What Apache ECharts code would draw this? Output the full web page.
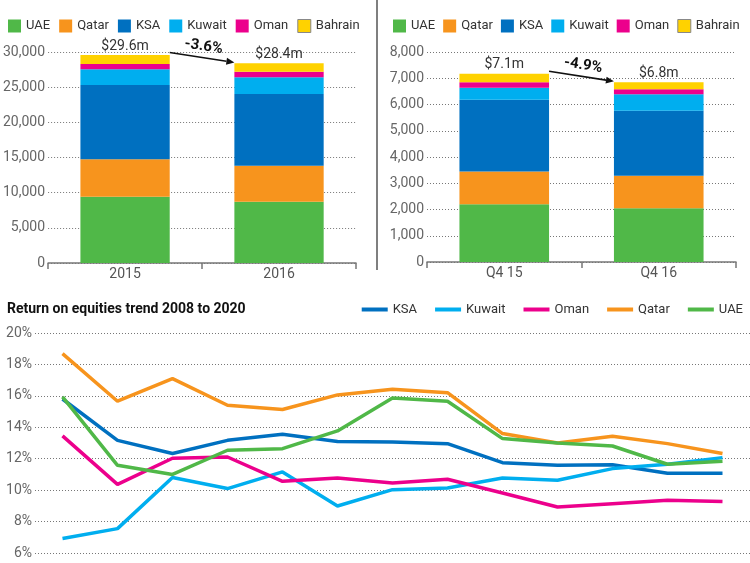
<!DOCTYPE html>
<html>
<head>
<meta charset="utf-8">
<script src="https://cdn.jsdelivr.net/npm/echarts@6/dist/echarts.min.js"></script>
<style>
html,body{margin:0;padding:0;background:#fff;}
#c{width:750px;height:563px;}
</style>
</head>
<body>
<div id="c"></div>
<script>
// ---------- data ----------
const countries = ['UAE', 'Qatar', 'KSA', 'Kuwait', 'Oman', 'Bahrain'];
const countryColors = ['#50b848', '#f7941d', '#0070c0', '#00aeef', '#ec008c', '#ffd200'];

const yearCategories = ['2015', '2016'];
const annualUAE = [9430, 8720];
const annualQatar = [5315, 5110];
const annualKSA = [10560, 10190];
const annualKuwait = [2230, 2380];
const annualOman = [750, 800];
const annualBahrain = [1280, 1200];
const annualTotalLabels = ['$29.6m', '$28.4m'];
const annualChange = '-3.6%';
const annualTicks = [0, 5000, 10000, 15000, 20000, 25000, 30000];

const quarterCategories = ['Q4 15', 'Q4 16'];
const quarterUAE = [2200, 2050];
const quarterQatar = [1250, 1240];
const quarterKSA = [2730, 2470];
const quarterKuwait = [460, 630];
const quarterOman = [210, 190];
const quarterBahrain = [320, 270];
const quarterTotalLabels = ['$7.1m', '$6.8m'];
const quarterChange = '-4.9%';
const quarterTicks = [0, 1000, 2000, 3000, 4000, 5000, 6000, 7000, 8000];

const roeTitle = 'Return on equities trend 2008 to 2020';
const roeYears = ['2008','2009','2010','2011','2012','2013','2014','2015','2016','2017','2018','2019','2020'];
const roeNames = ['KSA', 'Kuwait', 'Oman', 'Qatar', 'UAE'];
const roeColors = ['#0070c0', '#00aeef', '#ec008c', '#f7941d', '#50b848'];
const roeKSA    = [15.8, 13.17, 12.33, 13.17, 13.56, 13.1, 13.07, 12.96, 11.75, 11.58, 11.62, 11.07, 11.07];
const roeKuwait = [6.92, 7.55, 10.8, 10.1, 11.16, 8.99, 10.03, 10.14, 10.77, 10.63, 11.37, 11.65, 12.07];
const roeOman   = [13.45, 10.37, 12.03, 12.11, 10.56, 10.77, 10.46, 10.69, 9.82, 8.93, 9.14, 9.35, 9.27];
const roeQatar  = [18.69, 15.66, 17.1, 15.4, 15.13, 16.06, 16.42, 16.2, 13.6, 13.0, 13.43, 12.96, 12.33];
const roeUAE    = [15.93, 11.58, 11.0, 12.54, 12.64, 13.77, 15.87, 15.66, 13.28, 13.0, 12.81, 11.65, 11.84];
const roeTicks = [6, 8, 10, 12, 14, 16, 18, 20];

// ---------- chart ----------
const FONT = 'Roboto';
const annualSeries = [annualUAE, annualQatar, annualKSA, annualKuwait, annualOman, annualBahrain];
const quarterSeries = [quarterUAE, quarterQatar, quarterKSA, quarterKuwait, quarterOman, quarterBahrain];
const roeSeries = [roeKSA, roeKuwait, roeOman, roeQatar, roeUAE];

const BAR_GAP = '42%';
const gridLine = { show: true, lineStyle: { color: '#777', type: [1, 2], width: 1 } };
const yLabel = { color: '#666', fontSize: 14, fontFamily: FONT, margin: 3 };

function barAxisX(cats, idx) {
  return {
    type: 'category', gridIndex: idx, data: cats,
    axisLine: { lineStyle: { color: '#777', width: 1.5 } },
    axisTick: { show: true, length: 6, lineStyle: { color: '#777', width: 1.5 } },
    axisLabel: { color: '#555', fontSize: 14, fontFamily: FONT, margin: 4 }
  };
}
function barAxisY(ticks, idx) {
  return {
    type: 'value', gridIndex: idx,
    min: ticks[0], max: ticks[ticks.length - 1], interval: ticks[1] - ticks[0],
    axisLine: { show: false }, axisTick: { show: false },
    axisLabel: Object.assign({}, yLabel, {
      formatter: v => v.toLocaleString('en-US')
    }),
    splitLine: gridLine
  };
}

const series = [];
function addBars(dataArr, idx, stack, totals) {
  dataArr.forEach((d, i) => {
    const s = {
      type: 'bar', name: countries[i], stack: stack,
      xAxisIndex: idx, yAxisIndex: idx,
      data: d, barCategoryGap: BAR_GAP,
      itemStyle: { color: countryColors[i] },
      emphasis: { disabled: true }
    };
    if (i === dataArr.length - 1) {
      s.label = {
        show: true, position: 'top', distance: 2,
        color: '#333', fontSize: 14, fontFamily: FONT,
        formatter: p => totals[p.dataIndex]
      };
    }
    series.push(s);
  });
}
addBars(annualSeries, 0, 'annual', annualTotalLabels);
addBars(quarterSeries, 1, 'quarter', quarterTotalLabels);

roeSeries.forEach((d, i) => {
  series.push({
    type: 'line', name: roeNames[i], xAxisIndex: 2, yAxisIndex: 2,
    data: d, symbol: 'none', smooth: false,
    lineStyle: { color: roeColors[i], width: 3.5 },
    itemStyle: { color: roeColors[i] },
    emphasis: { disabled: true }
  });
});

const legendText = { color: '#333', fontSize: 13, fontFamily: FONT };
const barLegendData = countries.map(n => n === 'Bahrain'
  ? { name: n, itemStyle: { borderColor: '#888', borderWidth: 1 } } : { name: n });

const option = {
  animation: false,
  backgroundColor: '#fff',
  title: {
    text: roeTitle, left: 2, top: 297,
    textStyle: { fontSize: 14, fontWeight: 'bold', color: '#111', fontFamily: FONT }
  },
  legend: [
    { left: 3, top: 14, width: 372, icon: 'rect', itemWidth: 13, itemHeight: 13, itemGap: 9,
      data: barLegendData, textStyle: legendText, selectedMode: false },
    { left: 388, top: 14, width: 362, icon: 'rect', itemWidth: 13, itemHeight: 13, itemGap: 8,
      data: barLegendData, textStyle: legendText, selectedMode: false },
    { right: 2, top: 298, icon: 'rect', itemWidth: 26, itemHeight: 4, itemGap: 18,
      data: roeNames, textStyle: legendText, selectedMode: false }
  ],
  grid: [
    { left: 47, top: 52, width: 309, height: 211 },
    { left: 427, top: 52, width: 309, height: 210 },
    { left: 35, top: 333, width: 715, height: 220 }
  ],
  xAxis: [
    barAxisX(yearCategories, 0),
    barAxisX(quarterCategories, 1),
    { type: 'category', gridIndex: 2, data: roeYears, boundaryGap: true, show: false }
  ],
  yAxis: [
    barAxisY(annualTicks, 0),
    barAxisY(quarterTicks, 1),
    {
      type: 'value', gridIndex: 2,
      min: roeTicks[0], max: roeTicks[roeTicks.length - 1], interval: roeTicks[1] - roeTicks[0],
      axisLine: { show: false }, axisTick: { show: false },
      axisLabel: Object.assign({}, yLabel, { formatter: '{value}%' }),
      splitLine: gridLine
    }
  ],
  series: series
};

const chart = echarts.init(document.getElementById('c'), null, { renderer: 'canvas' });
chart.setOption(option);

// ---------- change arrows (positioned from axis scales) ----------
function arrowGraphics(idx, cats, totals, ticks, label) {
  const max = ticks[ticks.length - 1];
  const finder = { xAxisIndex: idx, yAxisIndex: idx };
  const p0 = chart.convertToPixel(finder, [cats[0], totals[0] + 0.012 * max]);
  const p1 = chart.convertToPixel(finder, [cats[1], totals[1] + 0.004 * max]);
  const band = p1[0] - p0[0];
  const half = band * 0.58 / 2;
  const x0 = p0[0] + half, y0 = p0[1];
  const x1 = p1[0] - half, y1 = p1[1];
  const th = Math.atan2(y1 - y0, x1 - x0);
  const L = 8, W = 3.5;
  const bx = x1 - L * Math.cos(th), by = y1 - L * Math.sin(th);
  const nx = -Math.sin(th), ny = Math.cos(th);
  const mx = (x0 + x1) / 2, my = (y0 + y1) / 2;
  return [
    { type: 'line', silent: true, z: 100,
      shape: { x1: x0, y1: y0, x2: bx, y2: by },
      style: { stroke: '#111', lineWidth: 1.6 } },
    { type: 'polygon', silent: true, z: 100,
      shape: { points: [[x1, y1], [bx + nx * W, by + ny * W], [bx - nx * W, by - ny * W]] },
      style: { fill: '#111' } },
    { type: 'text', silent: true, z: 100,
      x: mx + 11 * Math.sin(th), y: my - 11 * Math.cos(th), rotation: -th,
      style: { text: label, font: 'bold 15px ' + FONT, fill: '#111', align: 'center', verticalAlign: 'middle' } }
  ];
}

function sumAt(arrs, i) { return arrs.reduce((a, d) => a + d[i], 0); }
const annualTotals = [sumAt(annualSeries, 0), sumAt(annualSeries, 1)];
const quarterTotals = [sumAt(quarterSeries, 0), sumAt(quarterSeries, 1)];

const graphics = []
  .concat(arrowGraphics(0, yearCategories, annualTotals, annualTicks, annualChange))
  .concat(arrowGraphics(1, quarterCategories, quarterTotals, quarterTicks, quarterChange))
  .concat([{ type: 'line', silent: true, shape: { x1: 377, y1: 0, x2: 377, y2: 270 },
             style: { stroke: '#555', lineWidth: 1.5 } }]);
chart.setOption({ graphic: graphics });
</script>
</body>
</html>
